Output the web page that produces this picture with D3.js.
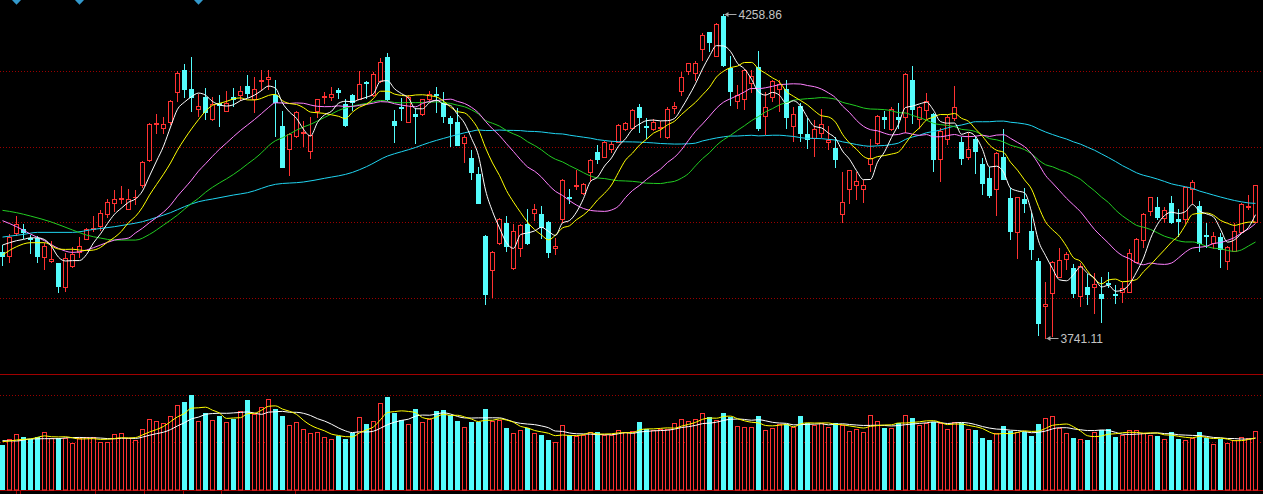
<!DOCTYPE html>
<html><head><meta charset="utf-8">
<script src="https://cdn.jsdelivr.net/npm/d3@7/dist/d3.min.js"></script>
<style>html,body{margin:0;padding:0;background:#000;overflow:hidden}svg{display:block}</style>
</head><body><svg id="c" width="1263" height="494"></svg>
<script>
// ---- data ----
const opens=[3877.9,3872.6,3909.4,3914.7,3900.3,3901.4,3869.9,3864.6,3860.4,3822.0,3856.6,3877.9,3899.8,3915.3,3920.6,3938.7,3957.3,3962.7,3947.7,3965.9,
3985.6,4026.0,4083.0,4077.2,4086.2,4134.8,4169.4,4139.0,4106.5,4126.8,4091.0,4116.1,4104.4,4125.7,4130.0,4143.3,4123.6,4151.3,4155.0,4129.4,
4079.8,4043.6,4063.8,4069.2,4040.4,4104.4,4126.2,4125.7,4137.4,4114.5,4128.9,4123.0,4150.7,4129.4,4152.3,4189.5,4087.8,4110.7,4086.8,4099.0,
4098.5,4123.6,4131.6,4116.1,4092.6,4085.7,4053.2,4028.1,4003.2,3904.0,3849.1,3892.3,3924.3,3852.3,3884.3,3923.2,3940.3,3939.2,3926.4,3884.3,
3930.7,3966.4,3984.5,3972.3,4006.9,4037.7,4030.8,4043.6,4054.8,4075.6,4076.1,4109.7,4079.8,4075.6,4076.1,4061.7,4108.6,4136.3,4168.3,4164.0,
4202.3,4229.5,4192.2,4255.6,4173.1,4120.3,4123.6,4149.1,4173.6,4096.4,4126.8,4138.5,4138.5,4080.4,4111.8,4067.0,4061.2,4069.2,4053.7,4044.7,
3938.7,3978.7,3985.1,3979.7,4018.6,4053.2,4094.8,4074.5,4094.8,4094.8,4153.4,4091.0,4105.4,4099.0,4026.5,4058.5,4092.1,4053.7,4030.8,4058.5,
4019.1,3996.3,3978.7,4029.7,3964.3,3909.9,3962.7,3912.1,3864.1,3792.2,3812.4,3839.0,3867.8,3853.4,3808.7,3823.0,3823.0,3811.3,3829.4,3811.3,
3815.0,3815.0,3863.0,3897.6,3943.5,3949.9,3932.3,3957.3,3930.7,3931.2,3979.2,3952.0,3905.6,3892.3,3901.9,3864.1,3880.6,3911.0,3949.9,3927.0];
const highs=[3889.7,3906.7,3936.0,3922.7,3905.6,3904.0,3893.4,3896.0,3861.4,3876.3,3885.9,3901.9,3917.4,3936.0,3945.6,3962.7,3977.1,3984.0,3978.7,3977.1,
4023.9,4084.1,4098.5,4093.7,4121.4,4167.2,4178.9,4189.5,4131.0,4140.1,4125.7,4129.4,4135.8,4140.6,4143.8,4161.4,4157.7,4169.4,4169.4,4153.4,
4103.8,4069.2,4103.8,4087.8,4093.7,4123.6,4133.7,4141.7,4140.6,4123.0,4130.5,4167.8,4152.3,4166.7,4188.5,4197.0,4105.4,4125.2,4129.4,4108.1,
4123.6,4135.8,4141.7,4133.7,4095.8,4108.1,4065.4,4040.9,4013.8,3905.6,3880.6,3932.3,3936.0,3922.7,3922.7,3947.2,3955.2,3952.0,3928.0,3901.4,
3994.7,3979.2,4009.6,3989.3,4026.5,4048.9,4055.3,4056.4,4083.0,4086.8,4107.0,4115.0,4092.1,4091.0,4088.4,4110.7,4117.7,4166.2,4181.0,4183.7,
4229.0,4230.1,4243.9,4258.86,4191.7,4145.4,4170.4,4169.4,4199.7,4134.8,4153.4,4153.4,4153.4,4109.7,4116.1,4092.1,4089.4,4107.0,4079.8,4062.8,
4006.4,4009.6,4005.8,3993.6,4058.5,4097.4,4103.8,4109.7,4116.1,4164.0,4175.7,4112.3,4132.1,4100.1,4076.1,4097.4,4143.8,4062.8,4069.2,4061.7,
4028.1,4014.9,4038.8,4075.1,3980.3,3967.0,3980.3,3940.3,3868.4,3830.0,3864.1,3884.3,3879.0,3859.3,3860.4,3842.7,3844.3,3839.0,3845.9,3825.7,
3831.0,3883.3,3901.4,3940.3,3967.0,3965.9,3949.9,3968.0,3946.7,3982.9,3993.6,3960.0,3925.4,3911.0,3909.4,3888.6,3924.3,3956.3,3969.6,3985.6];
const lows=[3857.7,3863.0,3905.6,3901.4,3876.3,3862.0,3850.7,3863.0,3815.0,3816.6,3855.0,3871.0,3898.7,3912.6,3913.7,3935.0,3944.6,3956.3,3946.7,3955.2,
3982.9,4024.4,4069.2,4068.1,4083.0,4120.3,4126.8,4104.4,4095.8,4091.0,4089.4,4079.8,4103.8,4111.8,4121.4,4126.8,4102.8,4137.4,4138.5,4063.8,
4013.8,4001.6,4062.8,4047.9,4029.2,4093.7,4116.1,4121.4,4125.2,4080.4,4105.4,4122.5,4125.2,4128.4,4150.7,4121.4,4054.8,4089.4,4085.7,4053.2,
4097.4,4120.3,4102.8,4086.8,4048.4,4049.5,4022.8,3994.7,3956.3,3794.9,3807.1,3891.3,3880.6,3851.8,3872.6,3891.3,3929.6,3900.3,3871.0,3875.3,
3927.0,3956.3,3979.2,3971.2,3992.0,4021.2,4029.7,4038.8,4053.7,4073.5,4074.5,4070.8,4060.1,4073.5,4062.8,4061.2,4100.1,4129.4,4163.0,4153.4,
4185.3,4200.2,4191.7,4176.2,4113.4,4108.1,4106.5,4134.8,4073.5,4067.0,4120.3,4104.4,4077.2,4056.4,4056.4,4045.2,4032.4,4062.8,4043.1,4014.9,
3927.0,3956.3,3963.2,3958.9,4008.5,4051.1,4076.7,4073.5,4076.1,4070.8,4085.2,4076.1,4092.1,4008.5,3992.5,4051.1,4089.4,4019.1,4027.1,4005.3,
3971.2,3967.0,3937.6,3994.7,3899.2,3869.4,3941.9,3867.3,3746.0,3741.11,3744.5,3838.0,3851.3,3807.1,3792.7,3795.4,3780.5,3767.2,3822.0,3797.5,
3799.1,3814.5,3862.0,3885.9,3937.6,3931.2,3925.9,3924.3,3904.6,3924.3,3956.3,3880.6,3887.0,3884.3,3855.0,3850.7,3880.1,3909.9,3946.7,3925.9];
const closes=[3872.6,3901.9,3922.7,3909.9,3898.7,3872.6,3888.1,3867.3,3824.6,3868.4,3875.3,3888.6,3915.8,3917.4,3940.3,3958.4,3962.7,3964.9,3963.8,3967.0,
4021.8,4082.5,4084.1,4082.5,4119.8,4164.6,4139.5,4126.8,4111.8,4102.8,4114.5,4113.4,4116.1,4122.5,4135.8,4133.1,4138.5,4152.9,4158.2,4118.7,
4014.9,4067.0,4101.7,4070.8,4065.4,4122.5,4127.8,4130.5,4134.8,4081.4,4118.7,4146.5,4148.1,4162.4,4181.6,4123.0,4082.0,4109.1,4126.8,4096.4,
4122.5,4131.0,4128.9,4096.4,4085.2,4050.0,4062.2,4006.9,3957.3,3811.3,3879.0,3930.7,3888.6,3912.1,3921.1,3892.3,3946.7,3917.9,3879.0,3888.6,
3993.1,3965.4,3985.6,3987.2,4025.0,4027.6,4053.7,4051.1,4080.9,4084.1,4104.9,4093.7,4078.3,4085.7,4077.7,4106.5,4111.8,4158.7,4180.0,4180.0,
4224.7,4214.6,4242.3,4177.3,4136.3,4130.0,4169.4,4160.3,4076.1,4110.7,4151.3,4146.5,4093.7,4099.0,4069.2,4059.0,4074.5,4082.5,4057.4,4027.1,
3957.9,4009.0,3991.5,3985.1,4028.7,4095.8,4091.6,4106.5,4090.5,4163.0,4106.5,4109.7,4119.3,4027.1,4072.4,4093.7,4110.7,4029.2,4042.5,4040.4,
3989.3,3970.2,4036.1,3995.7,3912.6,3965.9,3956.3,3882.7,3764.5,3795.4,3862.0,3865.7,3875.3,3813.4,3856.6,3811.3,3827.3,3804.4,3826.8,3809.2,
3820.4,3876.3,3899.2,3938.7,3965.9,3933.9,3945.6,3927.0,3928.0,3981.9,3989.9,3893.4,3904.0,3904.0,3883.3,3887.0,3912.1,3954.7,3952.0,3985.1];
const volumes=[135,152,168,159,152,159,174,155,156,155,142,157,158,158,144,144,168,170,155,150,
183,212,207,201,222,255,264,285,207,231,210,222,204,213,236,270,228,249,272,243,
222,195,203,182,171,174,158,153,162,153,171,218,198,207,260,279,232,209,198,243,
204,213,237,240,224,207,188,205,203,243,207,210,186,171,180,185,171,165,150,144,
195,164,163,165,173,174,165,166,179,175,176,204,182,180,182,184,200,212,206,212,
230,219,210,231,218,191,188,188,222,179,185,198,198,188,222,202,194,200,188,200,
196,177,183,174,225,207,186,186,201,225,216,195,200,203,200,183,203,200,183,180,
156,150,170,192,177,174,174,162,198,215,221,186,170,156,152,150,173,180,182,159,
165,179,179,170,164,162,152,174,153,149,155,174,156,138,154,141,150,158,155,176];
// moving-average values read off the picture where the window is not yet full
const ma5HeadIdx=[0,1,2,3], ma5HeadVal=[3889.7,3893.4,3896.6,3898.7];
const ma10HeadIdx=[0,2,4,6,8], ma10HeadVal=[3873.7,3887.0,3893.4,3893.4,3883.3];
const ma20HeadIdx=[0,2,4,6,8,10,12,14,16,18], ma20HeadVal=[3928.6,3919.0,3907.2,3896.6,3884.3,3877.9,3881.7,3889.7,3897.6,3900.8];
const ma30HeadIdx=[0,2,4,7,10,12,14,16,19,21,23,25,27,28], ma30HeadVal=[3945.1,3941.4,3936.0,3926.4,3913.7,3905.6,3900.8,3897.6,3897.6,3906.7,3921.6,3937.6,3956.3,3964.3];
const ma60HeadIdx=[0,3,5,10,13,16,18,20,22,24,26,28,30,33,35,39,43,46,50,52,55,57];
const ma60HeadVal=[3902.4,3906.7,3909.9,3909.9,3914.7,3919.0,3922.7,3927.0,3933.9,3941.4,3951.0,3958.9,3963.2,3969.6,3973.3,3986.7,3990.4,3996.3,4005.8,4014.9,4031.9,4038.8];
const vma5HeadIdx=[0,1,2,3], vma5HeadVal=[145,147,150,152];
const vma10HeadIdx=[0,2,4,6,8], vma10HeadVal=[148,147,153,154,154];
const priceGrid=[4167.2,4045.7,3925.9,3804.4];
const volGrid=[144,284];
const signalIdx=[2,11,28];
const axisTickIdx=[1.9,2.6,13.2,20.3,25.8,31.2,41.8];
const highLabel="4258.86", lowLabel="3741.11";

// ---- drawing ----
const W=1263,H=494,N=closes.length;
const svg=d3.select("#c");
svg.append("rect").attr("width",W).attr("height",H).attr("fill","#000");
const x=d3.scaleLinear().domain([0,N-1]).range([2.7,1255.7]);
const cx=i=>Math.floor(x(i))+0.5;
const y=d3.scaleLinear().domain([3741.11,4258.86]).range([338,14]);
const yv=d3.scaleLinear().domain([0,348]).range([490,374]);
const RED="#ff3232",CYAN="#54fcfc",GRID="#9a0000";

// grids
svg.append("g").selectAll("line").data(priceGrid).join("line")
 .attr("x1",0).attr("x2",W).attr("y1",d=>Math.round(y(d))+0.5).attr("y2",d=>Math.round(y(d))+0.5)
 .attr("stroke",GRID).attr("stroke-dasharray","1,2");
svg.append("g").selectAll("line").data(volGrid).join("line")
 .attr("x1",0).attr("x2",W).attr("y1",d=>Math.round(yv(d))+0.5).attr("y2",d=>Math.round(yv(d))+0.5)
 .attr("stroke",GRID).attr("stroke-dasharray","1,2");
// separators
svg.append("line").attr("x1",0).attr("x2",W).attr("y1",374.5).attr("y2",374.5).attr("stroke","#a00000");
svg.append("line").attr("x1",0).attr("x2",W).attr("y1",490.5).attr("y2",490.5).attr("stroke","#a00000");
svg.append("g").selectAll("line").data(axisTickIdx).join("line")
 .attr("x1",d=>cx(d)).attr("x2",d=>cx(d)).attr("y1",491).attr("y2",494).attr("stroke","#a00000");

// candles
const idx=d3.range(N);
const cg=svg.append("g");
idx.forEach(i=>{
  const o=opens[i],c=closes[i],up=c>=o,col=up?RED:CYAN,X=cx(i);
  const top=Math.round(y(Math.max(o,c))),bot=Math.round(y(Math.min(o,c)));
  const hy=Math.round(y(highs[i])),ly=Math.round(y(lows[i]));
  if(up){
    if(hy<top) cg.append("line").attr("x1",X).attr("x2",X).attr("y1",hy).attr("y2",top).attr("stroke",col);
    if(ly>bot) cg.append("line").attr("x1",X).attr("x2",X).attr("y1",bot+1).attr("y2",ly+1).attr("stroke",col);
    if(bot-top>=1) cg.append("rect").attr("x",X-2).attr("y",top+0.5).attr("width",4).attr("height",bot-top)
       .attr("fill","#000").attr("stroke",col);
    else cg.append("line").attr("x1",X-2.5).attr("x2",X+2.5).attr("y1",top+0.5).attr("y2",top+0.5).attr("stroke",col);
  }else{
    cg.append("line").attr("x1",X).attr("x2",X).attr("y1",hy).attr("y2",ly+1).attr("stroke",col);
    cg.append("rect").attr("x",X-2.5).attr("y",top).attr("width",5).attr("height",Math.max(1,bot-top+1)).attr("fill",col);
  }
});

// volume bars
const vg=svg.append("g");
idx.forEach(i=>{
  const up=closes[i]>=opens[i],X=cx(i),t=Math.round(yv(volumes[i]));
  if(up) vg.append("rect").attr("x",X-2).attr("y",t+0.5).attr("width",4).attr("height",490-t-0.5).attr("fill","#000").attr("stroke",RED);
  else vg.append("rect").attr("x",X-2.5).attr("y",t).attr("width",5).attr("height",490-t).attr("fill",CYAN);
});

// moving averages
function maSeries(src,n,hIdx,hVal){
  const pts=hIdx.map((k,j)=>({i:k,v:hVal[j]}));
  for(let i=n-1;i<src.length;i++){pts.push({i,v:d3.mean(src.slice(i-n+1,i+1))});}
  return pts;
}
const lp=d3.line().x(d=>cx(d.i)).y(d=>y(d.v)).curve(d3.curveMonotoneX);
const lv=d3.line().x(d=>cx(d.i)).y(d=>yv(d.v)).curve(d3.curveMonotoneX);
[[60,ma60HeadIdx,ma60HeadVal,"#20d4f0"],[30,ma30HeadIdx,ma30HeadVal,"#22cc22"],[20,ma20HeadIdx,ma20HeadVal,"#ff80ff"],
 [10,ma10HeadIdx,ma10HeadVal,"#ffff00"],[5,ma5HeadIdx,ma5HeadVal,"#ffffff"]].forEach(([n,hi,hv,col])=>{
  svg.append("path").attr("d",lp(maSeries(closes,n,hi,hv))).attr("fill","none").attr("stroke",col).attr("stroke-width",1);
});
[[10,vma10HeadIdx,vma10HeadVal,"#ffffff"],[5,vma5HeadIdx,vma5HeadVal,"#ffff00"]].forEach(([n,hi,hv,col])=>{
  svg.append("path").attr("d",lv(maSeries(volumes,n,hi,hv))).attr("fill","none").attr("stroke",col).attr("stroke-width",1);
});

// signal markers at top
svg.append("g").selectAll("path").data(signalIdx).join("path")
 .attr("d",d=>{const X=cx(d);return `M${X-4.5},0L${X},4.8L${X+4.5},0L${X},-4.8Z`;}).attr("fill","#3399cc");

// extreme labels
function label(i,val,text){
  const X=cx(i)+1, Y=Math.round(y(val))+0.5;
  svg.append("path").attr("d",`M${X},${Y}L${X+12},${Y}`).attr("stroke","#a8a8a8");
  svg.append("path").attr("d",`M${X},${Y}L${X+4},${Y-2.5}L${X+4},${Y+2.5}Z`).attr("fill","#a8a8a8");
  svg.append("text").attr("x",X+14).attr("y",Y+4.5).attr("fill","#c4c4c4")
   .attr("font-family","Liberation Sans, Arial, sans-serif").attr("font-size",12).text(text);
}
const hiI=highs.indexOf(d3.max(highs)), loI=lows.indexOf(d3.min(lows));
label(hiI,highs[hiI],highLabel);
label(loI,lows[loI],lowLabel);
</script></body></html>
